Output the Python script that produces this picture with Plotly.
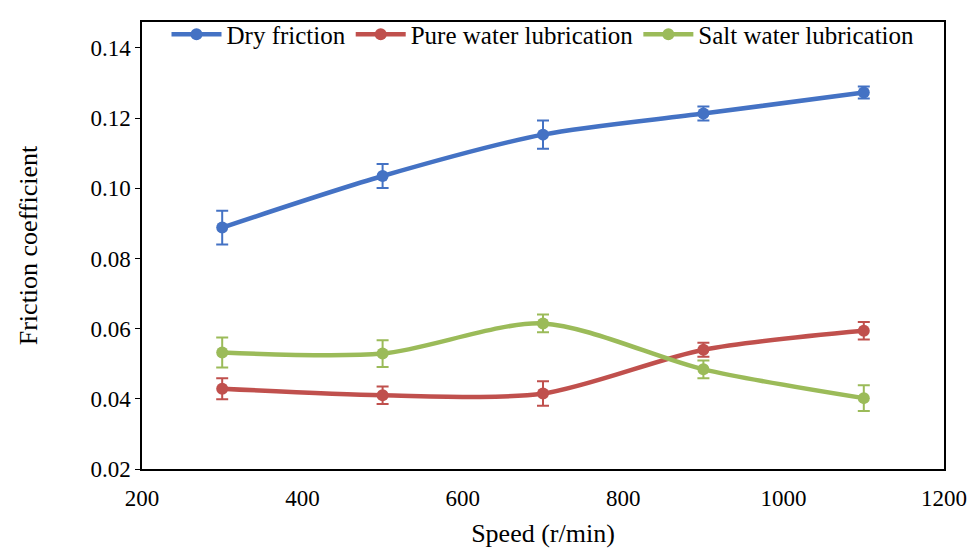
import plotly.graph_objects as go

speed = [300, 500, 700, 900, 1100]
dry = [0.0888, 0.1035, 0.1153, 0.1213, 0.1273]
dry_err = [0.0048, 0.0034, 0.0040, 0.0020, 0.0017]
pure = [0.0429, 0.0410, 0.0415, 0.0540, 0.0594]
pure_err = [0.0030, 0.0025, 0.0035, 0.0020, 0.0025]
salt = [0.0532, 0.0529, 0.0615, 0.0484, 0.0402]
salt_err = [0.0043, 0.0038, 0.0025, 0.0025, 0.0037]
names = ["Dry friction", "Pure water lubrication", "Salt water lubrication"]
colors = ["#4472C4", "#C0504D", "#9BBB59"]

fig = go.Figure()
for name, ys, errs, c in zip(names, [dry, pure, salt], [dry_err, pure_err, salt_err], colors):
    fig.add_trace(go.Scatter(
        x=speed, y=ys, name=name, mode="lines+markers",
        line=dict(color=c, width=4.5, shape="spline", smoothing=0.8),
        marker=dict(color=c, size=12),
        error_y=dict(type="data", array=errs, visible=True, color=c, thickness=2, width=6),
    ))

font = "Liberation Serif"
fig.update_layout(
    width=975, height=548,
    margin=dict(l=142, r=31, t=19, b=79),
    plot_bgcolor="white", paper_bgcolor="white",
    font=dict(family=font, size=23, color="black"),
    legend=dict(orientation="h", x=0.5, xanchor="center", y=0.972, yanchor="middle",
                bgcolor="rgba(0,0,0,0)", font=dict(family=font, size=25),
                itemwidth=50, tracegroupgap=0),
    showlegend=True,
)
fig.update_xaxes(
    range=[200, 1200], tickvals=[200, 400, 600, 800, 1000, 1200],
    showline=True, linecolor="black", linewidth=1.5, mirror=True, automargin=False,
    showgrid=False, zeroline=False, ticks="outside", ticklen=8, tickcolor="rgba(0,0,0,0)",
    title=dict(text="Speed (r/min)", font=dict(family=font, size=26), standoff=14),
    tickfont=dict(family=font, size=23),
)
fig.update_yaxes(
    range=[0.02, 0.1474], tickvals=[0.02, 0.04, 0.06, 0.08, 0.10, 0.12, 0.14],
    tickformat=".2f", automargin=False,
    showline=True, linecolor="black", linewidth=1.5, mirror=True,
    showgrid=False, zeroline=False, ticks="outside", ticklen=5, tickcolor="black",
    title=dict(text="Friction coefficient", font=dict(family=font, size=26), standoff=45),
    tickfont=dict(family=font, size=23),
)
fig.write_html("out.html")
